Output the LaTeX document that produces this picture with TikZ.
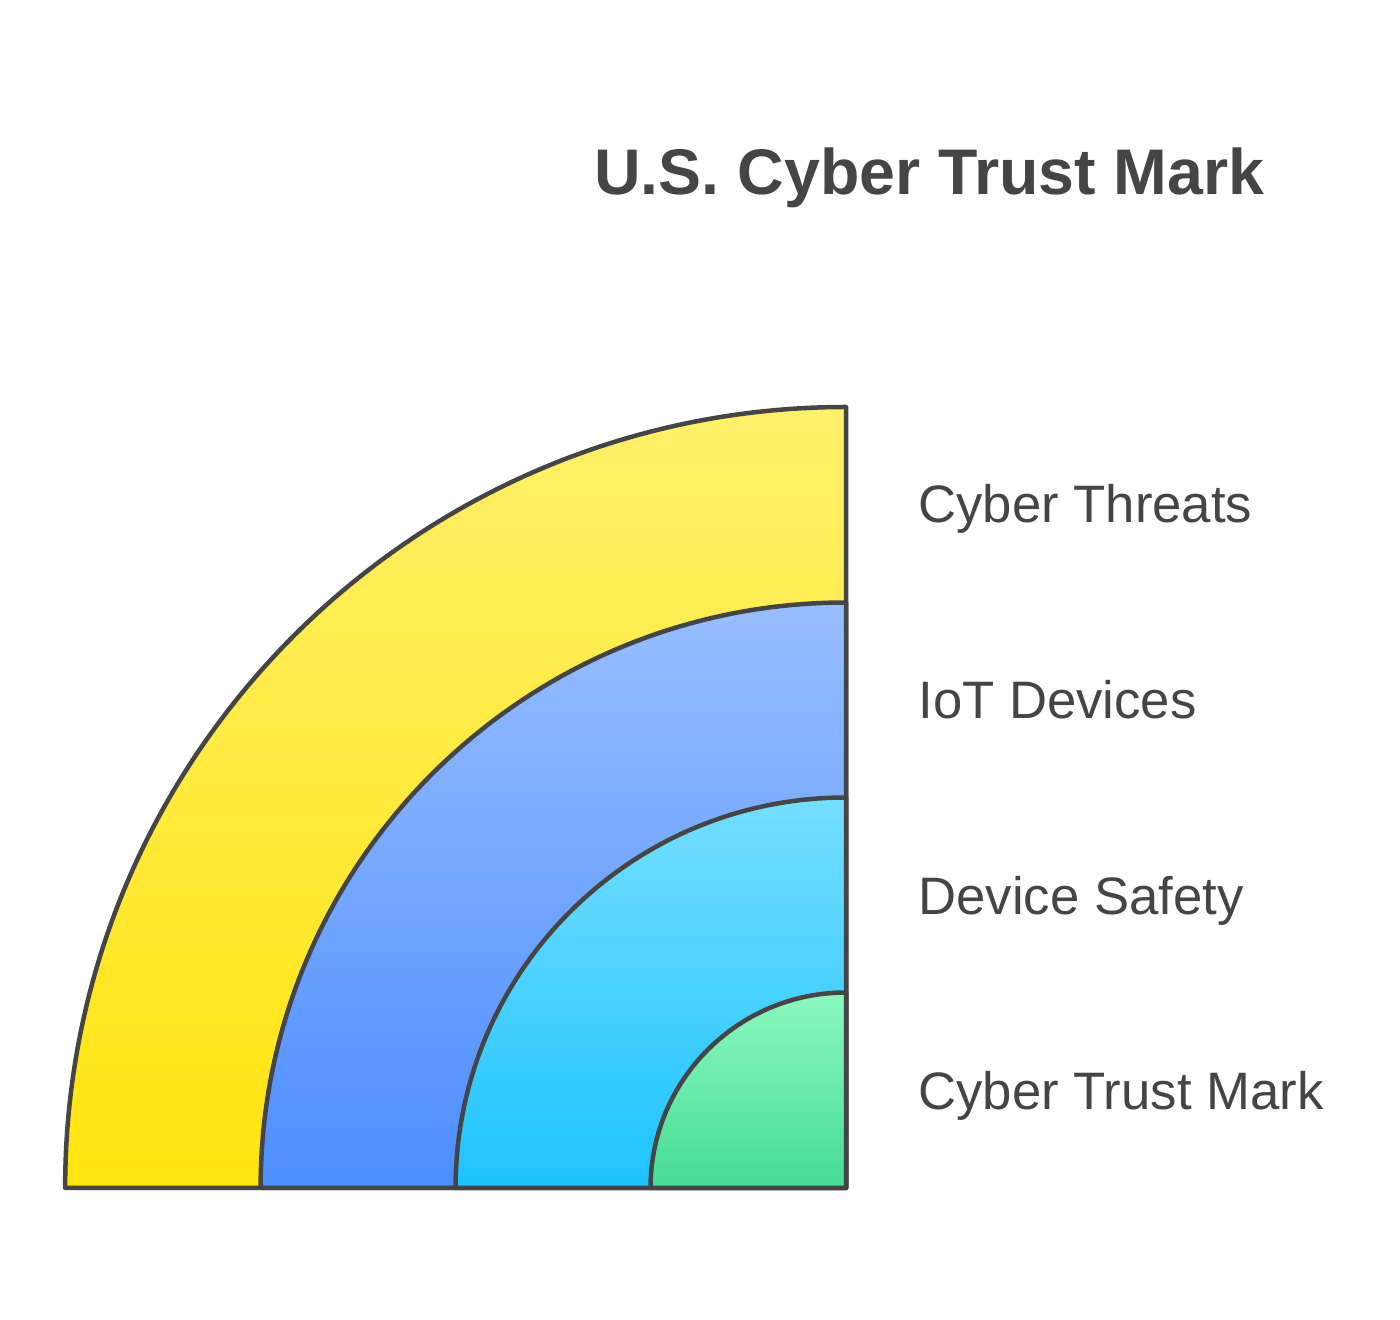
\documentclass[tikz,border=0pt]{standalone}
\usepackage{fontspec}
\setmainfont{Liberation Sans}
\definecolor{ink}{HTML}{454545}
\definecolor{yellowtop}{HTML}{FFF06B}
\definecolor{yellowbot}{HTML}{FFE40E}
\definecolor{bluetop}{HTML}{97BEFF}
\definecolor{bluebot}{HTML}{4C8DFF}
\definecolor{cyantop}{HTML}{75DEFF}
\definecolor{cyanbot}{HTML}{1DC3FF}
\definecolor{greentop}{HTML}{8BF8BF}
\definecolor{greenbot}{HTML}{45DC95}
\begin{document}
\begin{tikzpicture}[x=0.02cm,y=0.02cm,
    ring/.style={draw=ink,line width=0.09cm,line join=round},
    label/.style={anchor=base west,inner sep=0pt,text=ink,font=\fontsize{30}{36}\selectfont}]
    \useasboundingbox (0,0) rectangle (1400,1319);
    \coordinate (O) at (846,131);
    % quarter discs, largest first
    \draw[ring,top color=yellowtop,bottom color=yellowbot] (O) -- ++(0,781) arc (90:180:15.62cm) -- cycle;
    \draw[ring,top color=bluetop,bottom color=bluebot] (O) -- ++(0,585.5) arc (90:180:11.71cm) -- cycle;
    \draw[ring,top color=cyantop,bottom color=cyanbot] (O) -- ++(0,390.5) arc (90:180:7.81cm) -- cycle;
    \draw[ring,top color=greentop,bottom color=greenbot] (O) -- ++(0,195.5) arc (90:180:3.91cm) -- cycle;
    % texts
    \node[anchor=base west,inner sep=0pt,text=ink,font=\bfseries\fontsize{36.7}{44}\selectfont] (title) at (594,1124) {U.S. Cyber Trust Mark};
    \node[label] (threats) at (918,796) {Cyber Threats};
    \node[label] (iot) at (918,600) {IoT Devices};
    \node[label] (safety) at (918,404) {Device Safety};
    \node[label] (mark) at (918,209) {Cyber Trust Mark};
\end{tikzpicture}
\end{document}
